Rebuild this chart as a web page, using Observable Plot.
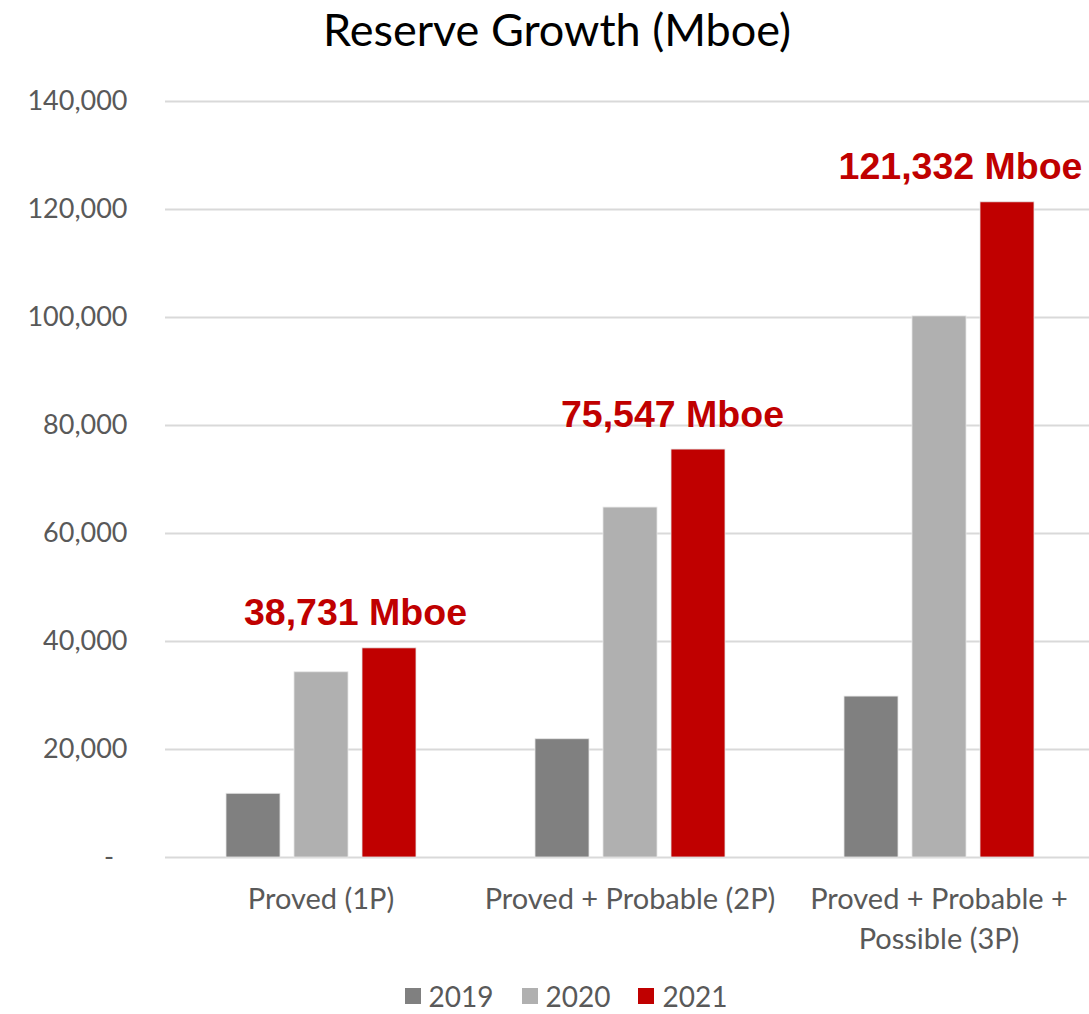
<!DOCTYPE html>
<html>
<head>
<meta charset="utf-8">
<script src="https://cdn.jsdelivr.net/npm/d3@7"></script>
<script src="https://cdn.jsdelivr.net/npm/@observablehq/plot@0.6"></script>
<style>
  html, body { margin: 0; padding: 0; background: #fff; overflow: hidden; }
  #title { height: 60px; line-height: 58px; font-family: Lato, sans-serif; font-size: 45px; color: #000; text-align: center; padding-left: 25px; width: 1064px; }
  #legend { margin-top: 19px; height: 34px; line-height: 34px; display: flex; justify-content: center; align-items: center; padding-left: 43px; width: 1046px; font-family: Lato, sans-serif; font-size: 28px; color: #595959; }
  .item { display: flex; align-items: center; margin: 0 14px; }
  .sw { width: 16px; height: 16px; margin-right: 8px; }
</style>
</head>
<body>
<div id="title">Reserve Growth (Mboe)</div>
<div id="chart"></div>
<div id="legend"></div>
<script>
const categories = ["Proved (1P)", "Proved + Probable (2P)", "Proved + Probable + Possible (3P)"];
const categoryLabels = ["Proved (1P)", "Proved + Probable (2P)", "Proved + Probable +\nPossible (3P)"];
const years = ["2019", "2020", "2021"];
const values2019 = [11800, 21900, 29800];
const values2020 = [34300, 64800, 100200];
const values2021 = [38731, 75547, 121332];
const colors = ["#808080", "#b0b0b0", "#c00000"];
const yTicks = [0, 20000, 40000, 60000, 80000, 100000, 120000, 140000];

const series = [values2019, values2020, values2021];
const data = [];
categories.forEach((c, i) => years.forEach((y, j) => data.push({category: c, year: y, value: series[j][i]})));
const latest = data.filter(d => d.year === "2021");
const fmt = d3.format(",");

// label horizontal offsets (style), one per category
const labelDx = [-34, -26, -47];
const labelMarks = categories.map((c, i) =>
  Plot.text(latest.filter(d => d.category === c), {fx: "category", x: "year", y: "value",
    text: d => fmt(d.value) + " Mboe",
    dx: labelDx[i], dy: -23, lineAnchor: "bottom", fontSize: 37.5, fontWeight: "bold",
    fontFamily: "Liberation Sans, Arial, sans-serif", fill: "#c00000"}));

const chart = Plot.plot({
  width: 1089,
  height: 900,
  marginLeft: 165,
  marginRight: 0,
  marginTop: 41,
  marginBottom: 103,
  style: {fontFamily: "Lato, sans-serif", background: "#fff"},
  fx: {domain: categories, padding: 0, label: null, range: [166, 1093]},
  x: {domain: years, paddingInner: 0.21, paddingOuter: 0.85, axis: null},
  y: {domain: [0, 140000], label: null},
  color: {domain: years, range: colors},
  marks: [
    Plot.ruleY(yTicks, {stroke: "#d9d9d9", strokeWidth: 2, dx: -1}),
    Plot.barY(data, {fx: "category", x: "year", y: "value", fill: "year", stroke: "#e6e6e6", strokeWidth: 0.8}),
    ...labelMarks,
    Plot.axisY({ticks: yTicks, tickSize: 0, tickPadding: 39, fontSize: 27, color: "#595959",
      tickFormat: d => d === 0 ? "-\u2002" : fmt(d)}),
    Plot.axisFx({anchor: "bottom", tickSize: 0, tickPadding: 23, fontSize: 29, color: "#595959",
      lineHeight: 1.38, label: null, tickFormat: d => categoryLabels[categories.indexOf(d)]})
  ]
});
document.getElementById("chart").appendChild(chart);

const legend = document.getElementById("legend");
years.forEach((y, i) => {
  const item = document.createElement("div");
  item.className = "item";
  const sw = document.createElement("span");
  sw.className = "sw";
  sw.style.background = colors[i];
  const t = document.createElement("span");
  t.textContent = y;
  item.appendChild(sw);
  item.appendChild(t);
  legend.appendChild(item);
});
</script>
</body>
</html>
